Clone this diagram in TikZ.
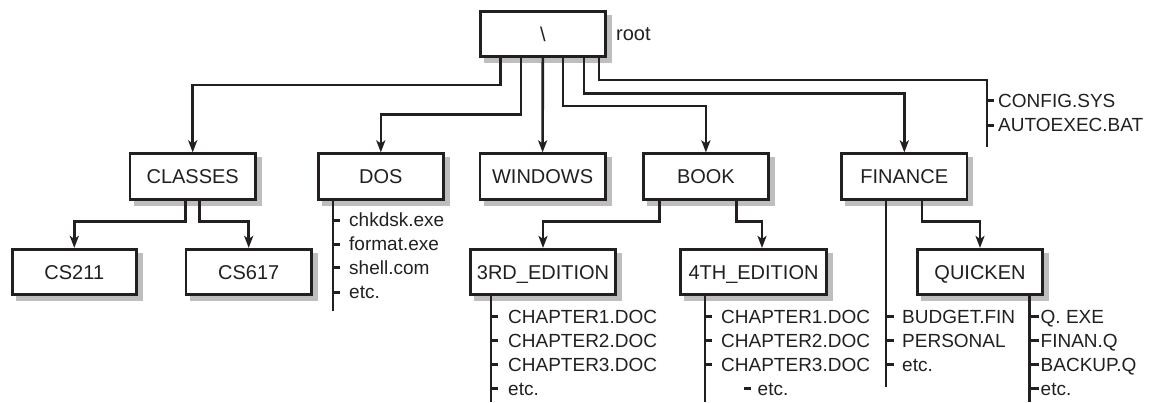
\documentclass[tikz,border=0pt]{standalone}
\usepackage{fontspec}
\setmainfont{Liberation Sans}
\usetikzlibrary{arrows.meta,backgrounds,calc}
\definecolor{ink}{HTML}{231F20}
\definecolor{shade}{HTML}{BEBEBE}
\begin{document}
\begin{tikzpicture}[x=1pt,y=-1pt,
  box/.style={draw=ink,line width=2.7pt,fill=white,minimum height=45.5pt,inner sep=0pt,
    text height=14.3pt,text depth=0pt,font=\fontsize{20}{24}\selectfont,text=ink},
  shadowbox/.style={fill=shade},
  conn/.style={draw=ink,line width=2.6pt},
  arr/.style={conn,-{Stealth[length=12pt,width=9pt,inset=3pt]}},
  tick/.style={draw=ink,line width=3pt},
  item/.style={anchor=west,inner sep=0pt,text height=13.6pt,text depth=0pt,
    font=\fontsize{19}{22}\selectfont,text=ink}]
\useasboundingbox (0,0) rectangle (1158,402);

% boxes
\node[box,minimum width=125.3pt] (root) at (542.8,34) {\textbackslash};
\node[anchor=west,inner sep=0pt,text height=14.3pt,text depth=0pt,font=\fontsize{20}{24}\selectfont,text=ink] (rootlbl) at (616,33) {root};

\node[box,minimum width=125.3pt] (classes) at (192.7,176.5) {CLASSES};
\node[box,minimum width=125.3pt] (dos) at (380.8,176.5) {DOS};
\node[box,minimum width=125.3pt] (windows) at (542.6,176.5) {WINDOWS};
\node[box,minimum width=125.3pt] (book) at (705.9,176.5) {BOOK};
\node[box,minimum width=125.3pt] (finance) at (904.3,176.5) {FINANCE};

\node[box,minimum width=124.3pt] (cs211) at (74.3,272) {CS211};
\node[box,minimum width=125.3pt] (cs617) at (248.7,272) {CS617};
\node[box,minimum width=145.3pt] (ed3) at (543,272) {3RD\_EDITION};
\node[box,minimum width=146.3pt] (ed4) at (753.5,272) {4TH\_EDITION};
\node[box,minimum width=125.3pt] (quicken) at (980,272) {QUICKEN};

% shadows
\begin{scope}[on background layer]
\foreach \n in {root,classes,dos,windows,book,finance,cs211,cs617,ed3,ed4,quicken}
  \fill[shadowbox] ($(\n.south west)+(5,5)$) rectangle ($(\n.north east)+(5,5)$);
\end{scope}

% root connectors
\draw[arr] ([xshift=21.7]root.south west) -- ++(0,27) -| (classes.north);
\draw[arr] ([xshift=42]root.south west) -- ++(0,56.3) -| (dos.north);
\draw[arr] (root.south) -- (windows.north);
\draw[arr] ([xshift=84.3]root.south west) -- ++(0,47.7) -| (book.north);
\draw[arr] ([xshift=105]root.south west) -- ++(0,35.3) -| (finance.north);
\coordinate (cfgtop) at (987,80);
\coordinate (cfgbot) at (987,147);
\draw[conn] ([xshift=120]root.south west) |- (cfgtop) -- (cfgbot);
\draw[tick] (cfgtop |- 0,100.7) -- ++(7,0);
\draw[tick] (cfgtop |- 0,125) -- ++(7,0);
\node[item] (cfg1) at (998,100.7) {CONFIG.SYS};
\node[item] (cfg2) at (998,125) {AUTOEXEC.BAT};

% classes
\draw[arr] ([xshift=-7]classes.south) -- ++(0,21) -| (cs211.north);
\draw[arr] ([xshift=7]classes.south) -- ++(0,21) -| (cs617.north);

% book
\draw[arr] ([xshift=17.6]book.south west) -- ++(0,21) -| (ed3.north);
\draw[arr] ([xshift=94.3]book.south west) -- ++(0,21) -| ([xshift=8.5]ed4.north);

% finance
\draw[arr] ([xshift=81.8]finance.south west) -- ++(0,21) -| (quicken.north);

% DOS list
\draw[conn] ([xshift=16]dos.south west) coordinate (dl) -- (dl |- 0,311);
\foreach \yy in {220,244,267.5,292} \draw[tick] (dl |- 0,\yy) -- ++(7,0);
\node[item] (d1) at (349,220) {chkdsk.exe};
\node[item] (d2) at (349,244) {format.exe};
\node[item] (d3) at (349,267.5) {shell.com};
\node[item] (d4) at (349,292) {etc.};

% 3RD list
\draw[conn] ([xshift=22]ed3.south west) coordinate (e3) -- (e3 |- 0,402);
\foreach \yy in {316.7,340.5,364.5,388.5} \draw[tick] (e3 |- 0,\yy) -- ++(7,0);
\node[item] (a1) at (508,316.7) {CHAPTER1.DOC};
\node[item] (a2) at (508,340.5) {CHAPTER2.DOC};
\node[item] (a3) at (508,364.5) {CHAPTER3.DOC};
\node[item] (a4) at (508,388.5) {etc.};

% 4TH list
\draw[conn] ([xshift=26]ed4.south west) coordinate (e4) -- (e4 |- 0,402);
\foreach \yy in {316.7,340.5,364.5} \draw[tick] (e4 |- 0,\yy) -- ++(7,0);
\node[item] (b1) at (721,316.7) {CHAPTER1.DOC};
\node[item] (b2) at (721,340.5) {CHAPTER2.DOC};
\node[item] (b3) at (721,364.5) {CHAPTER3.DOC};
\node[item] (b4) at (757.5,388.5) {etc.};
\draw[tick] ([xshift=-13.5]b4.west) -- ++(6.5,0);

% FINANCE list
\draw[conn] ([xshift=45.5]finance.south west) coordinate (fl) -- (fl |- 0,387);
\foreach \yy in {316.7,340.5,364.5} \draw[tick] (fl |- 0,\yy) -- ++(8,0);
\node[item] (f1) at (902,316.7) {BUDGET.FIN};
\node[item] (f2) at (902,340.5) {PERSONAL};
\node[item] (f3) at (902,364.5) {etc.};

% QUICKEN list
\draw[conn] ([xshift=113.5]quicken.south west) coordinate (ql) -- (ql |- 0,402);
\foreach \yy in {316.7,340.5,364.5,388.5} \draw[tick] (ql |- 0,\yy) -- ++(9,0);
\node[item] (q1) at (1040.5,316.7) {Q. EXE};
\node[item] (q2) at (1040.5,340.5) {FINAN.Q};
\node[item] (q3) at (1040.5,364.5) {BACKUP.Q};
\node[item] (q4) at (1040.5,388.5) {etc.};
\end{tikzpicture}
\end{document}
